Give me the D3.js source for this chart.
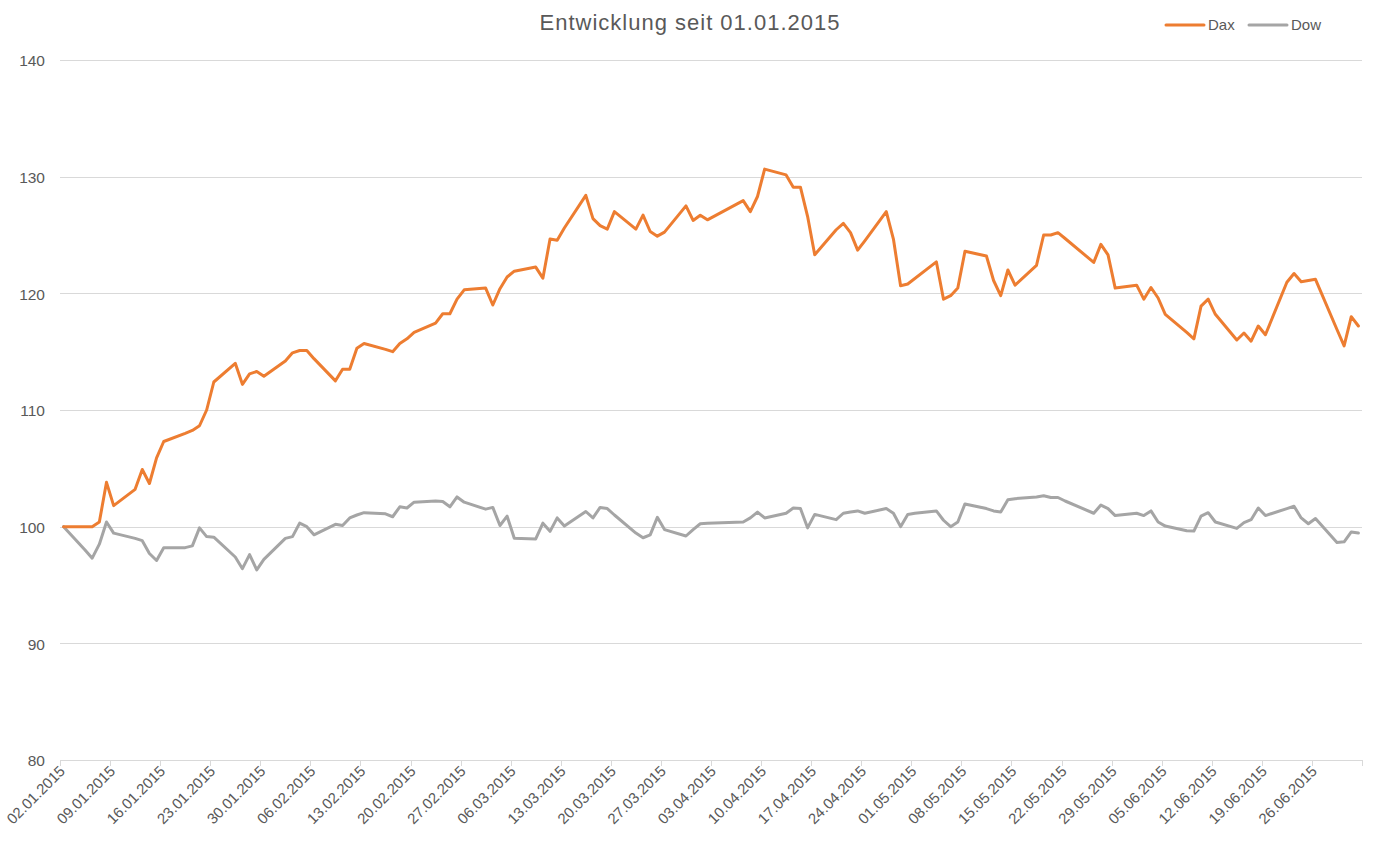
<!DOCTYPE html>
<html><head><meta charset="utf-8">
<script src="https://cdn.jsdelivr.net/npm/d3@7"></script>
<style>
html,body{margin:0;padding:0;background:#fff;}
svg{display:block;}
text{font-family:"Liberation Sans",Arial,sans-serif;fill:#595959;}
</style></head><body>
<svg id="chart" width="1377" height="867"></svg>
<script>
const title = "Entwicklung seit 01.01.2015";
const seriesNames = ["Dax", "Dow"];
const seriesColors = ["#ED7D31", "#A5A5A5"];

const daxDates = ["02.01","05.01","06.01","07.01","08.01","09.01","12.01","13.01","14.01","15.01","16.01","19.01","20.01","21.01","22.01","23.01","26.01","27.01","28.01","29.01","30.01",
"02.02","03.02","04.02","05.02","06.02","09.02","10.02","11.02","12.02","13.02","16.02","17.02","18.02","19.02","20.02","23.02","24.02","25.02","26.02","27.02",
"02.03","03.03","04.03","05.03","06.03","09.03","10.03","11.03","12.03","13.03","16.03","17.03","18.03","19.03","20.03","23.03","24.03","25.03","26.03","27.03","30.03","31.03",
"01.04","02.04","07.04","08.04","09.04","10.04","13.04","14.04","15.04","16.04","17.04","20.04","21.04","22.04","23.04","24.04","27.04","28.04","29.04","30.04",
"04.05","05.05","06.05","07.05","08.05","11.05","12.05","13.05","14.05","15.05","18.05","19.05","20.05","21.05","22.05","26.05","27.05","28.05","29.05",
"01.06","02.06","03.06","04.06","05.06","08.06","09.06","10.06","11.06","12.06","15.06","16.06","17.06","18.06","19.06","22.06","23.06","24.06","25.06","26.06","29.06","30.06",
"01.07","02.07"];
const daxValues = [100,100,100,100.4,103.8,101.8,103.2,104.9,103.7,105.9,107.3,108.0,108.25,108.65,110.0,112.4,114.0,112.2,113.1,113.3,112.9,
114.2,114.9,115.1,115.1,114.4,112.5,113.5,113.5,115.3,115.7,115.2,115.0,115.7,116.1,116.65,117.45,118.25,118.25,119.5,120.3,
120.45,119.0,120.4,121.4,121.9,122.25,121.3,124.65,124.55,125.6,128.4,126.4,125.8,125.5,127.0,125.5,126.7,125.3,124.9,125.25,127.5,126.25,
126.7,126.3,127.95,127.0,128.3,130.65,130.15,129.1,129.1,126.6,123.3,125.45,126.0,125.2,123.7,124.5,127.0,124.65,120.65,120.8,
122.7,119.5,119.8,120.45,123.6,123.2,121.1,119.8,122.0,120.7,122.4,125.0,125.0,125.2,124.7,122.65,124.2,123.3,120.45,
120.7,119.5,120.5,119.6,118.2,116.65,116.1,118.9,119.5,118.2,116.0,116.6,115.9,117.2,116.45,120.95,121.7,121.0,121.1,121.2,116.9,115.5,
118.0,117.2];

const dowDates = ["02.01","05.01","06.01","07.01","08.01","09.01","12.01","13.01","14.01","15.01","16.01","19.01","20.01","21.01","22.01","23.01","26.01","27.01","28.01","29.01","30.01",
"02.02","03.02","04.02","05.02","06.02","09.02","10.02","11.02","12.02","13.02","16.02","17.02","18.02","19.02","20.02","23.02","24.02","25.02","26.02","27.02",
"02.03","03.03","04.03","05.03","06.03","09.03","10.03","11.03","12.03","13.03","16.03","17.03","18.03","19.03","20.03","23.03","24.03","25.03","26.03","27.03","30.03","31.03",
"01.04","02.04","06.04","07.04","08.04","09.04","10.04","13.04","14.04","15.04","16.04","17.04","20.04","21.04","22.04","23.04","24.04","27.04","28.04","29.04","30.04",
"01.05","04.05","05.05","06.05","07.05","08.05","11.05","12.05","13.05","14.05","15.05","18.05","19.05","20.05","21.05","22.05","26.05","27.05","28.05","29.05",
"01.06","02.06","03.06","04.06","05.06","08.06","09.06","10.06","11.06","12.06","15.06","16.06","17.06","18.06","19.06","22.06","23.06","24.06","25.06","26.06","29.06","30.06",
"01.07","02.07"];
const dowValues = [100,98.0,97.3,98.5,100.4,99.45,99.0,98.8,97.7,97.1,98.2,98.2,98.35,99.9,99.15,99.1,97.4,96.4,97.6,96.3,97.2,
99.0,99.15,100.3,100.0,99.3,100.2,100.1,100.75,101.0,101.2,101.1,100.85,101.7,101.6,102.1,102.2,102.15,101.7,102.55,102.1,
101.5,101.65,100.1,100.9,99.0,98.95,100.3,99.6,100.75,100.05,101.3,100.75,101.65,101.55,101.0,99.45,99.05,99.3,100.8,99.75,99.2,99.75,
100.25,100.3,100.38,100.4,100.75,101.25,100.75,101.15,101.6,101.55,99.9,101.05,100.6,101.15,101.25,101.35,101.15,101.55,101.15,100.0,101.05,
101.15,101.35,100.55,100.0,100.4,101.95,101.55,101.35,101.25,102.3,102.4,102.55,102.65,102.5,102.5,102.2,101.15,101.85,101.55,100.95,
101.15,100.95,101.35,100.4,100.05,99.65,99.62,100.9,101.2,100.4,99.85,100.35,100.6,101.6,100.95,101.55,101.75,100.75,100.25,100.7,98.65,98.7,
99.55,99.45];

const xTickLabels = ["02.01.2015","09.01.2015","16.01.2015","23.01.2015","30.01.2015","06.02.2015","13.02.2015","20.02.2015","27.02.2015",
"06.03.2015","13.03.2015","20.03.2015","27.03.2015","03.04.2015","10.04.2015","17.04.2015","24.04.2015","01.05.2015","08.05.2015",
"15.05.2015","22.05.2015","29.05.2015","05.06.2015","12.06.2015","19.06.2015","26.06.2015"];
const axisEnd = "03.07.2015";
const yTicks = [80, 90, 100, 110, 120, 130, 140];

const parseFull = d3.utcParse("%d.%m.%Y");
const parseDay = s => parseFull(s + ".2015");
const halfDay = d => d3.utcHour.offset(d, 12);

const W = 1377, H = 867;
const M = {left: 60, right: 15, top: 60, bottom: 107};
const svg = d3.select("#chart");

const x = d3.scaleUtc()
  .domain([parseFull(xTickLabels[0]), parseFull(axisEnd)])
  .range([M.left, W - M.right]);
const y = d3.scaleLinear().domain([80, 140]).range([H - M.bottom, M.top]);

// gridlines
svg.append("g").selectAll("line").data(yTicks).join("line")
  .attr("x1", M.left).attr("x2", W - M.right)
  .attr("y1", d => Math.round(y(d)) + 0.5).attr("y2", d => Math.round(y(d)) + 0.5)
  .attr("stroke", "#d9d9d9").attr("stroke-width", 1);

// y labels
svg.append("g").selectAll("text").data(yTicks).join("text")
  .attr("x", 45).attr("y", d => y(d) + 1).attr("dy", "0.35em")
  .attr("text-anchor", "end").attr("font-size", 15.5).text(d => d);

// x axis ticks
const tickDates = xTickLabels.map(parseFull).concat([parseFull(axisEnd)]);
const xg = svg.append("g");
xg.selectAll("line").data(tickDates).join("line")
  .attr("x1", d => Math.round(x(d)) + 0.5).attr("x2", d => Math.round(x(d)) + 0.5)
  .attr("y1", Math.round(y(80))).attr("y2", Math.round(y(80)) + 6)
  .attr("stroke", "#d9d9d9");
xg.selectAll("text").data(xTickLabels).join("text")
  .attr("transform", d => `translate(${x(parseFull(d)) + 6},${y(80) + 12}) rotate(-45)`)
  .attr("text-anchor", "end").attr("font-size", 15).text(d => d);

// lines
const line = d3.line().x(d => x(halfDay(d.date))).y(d => y(d.value));
const series = [
  {name: seriesNames[0], color: seriesColors[0], data: daxDates.map((d, i) => ({date: parseDay(d), value: daxValues[i]}))},
  {name: seriesNames[1], color: seriesColors[1], data: dowDates.map((d, i) => ({date: parseDay(d), value: dowValues[i]}))}
];
svg.append("g").selectAll("path").data(series.slice().reverse()).join("path")
  .attr("d", d => line(d.data))
  .attr("fill", "none").attr("stroke", d => d.color)
  .attr("stroke-width", 3).attr("stroke-linejoin", "round").attr("stroke-linecap", "round");

// title
svg.append("text").attr("x", 690).attr("y", 30).attr("text-anchor", "middle")
  .attr("font-size", 22).attr("letter-spacing", 1).text(title);

// legend
const lg = svg.append("g");
const legX = [1166, 1249];
series.forEach((s, i) => {
  lg.append("line").attr("x1", legX[i]).attr("x2", legX[i] + 38).attr("y1", 25).attr("y2", 25)
    .attr("stroke", s.color).attr("stroke-width", 3).attr("stroke-linecap", "round");
  lg.append("text").attr("x", legX[i] + 42).attr("y", 25).attr("dy", "0.35em")
    .attr("font-size", 15).text(s.name);
});
</script>
</body></html>
